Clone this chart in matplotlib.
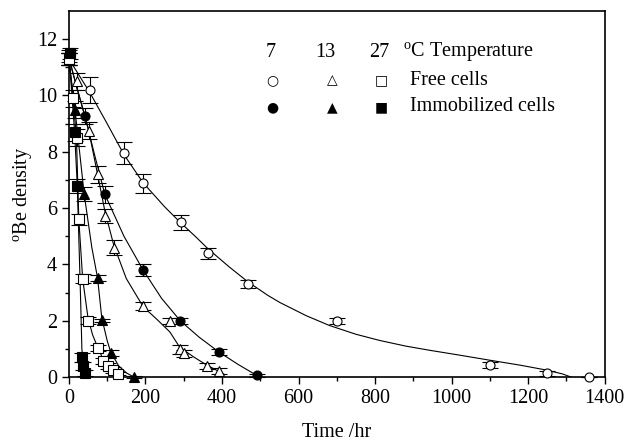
"""Be density decline for free and immobilized cells at three temperatures."""

import matplotlib
matplotlib.use("Agg")
import matplotlib.pyplot as plt

plt.rcParams["font.family"] = ["Liberation Serif", "DejaVu Serif"]
plt.rcParams["mathtext.fontset"] = "custom"
plt.rcParams["mathtext.rm"] = "Liberation Serif"

# measured points (time in hr, density in oBe)
t_free7 = [0, 55, 144, 194, 292, 364, 468, 700, 1100, 1250, 1360]
y_free7 = [11.3, 10.2, 7.96, 6.88, 5.5, 4.4, 3.29, 1.99, 0.43, 0.13, 0.0]
e_free7 = [0.2, 0.45, 0.4, 0.33, 0.27, 0.2, 0.14, 0.12, 0.1, 0.1, 0.0]

t_imm7 = [0, 42, 94, 194, 291, 392, 492]
y_imm7 = [11.4, 9.27, 6.49, 3.8, 1.99, 0.89, 0.06]
e_imm7 = [0.2, 0.3, 0.3, 0.2, 0.12, 0.1, 0.06]

t_free13 = [0, 20, 52, 75, 94, 117, 194, 264, 290, 301, 361, 392]
y_free13 = [11.3, 10.5, 8.75, 7.2, 5.72, 4.6, 2.52, 1.99, 0.98, 0.84, 0.39, 0.21]
e_free13 = [0.2, 0.3, 0.3, 0.3, 0.25, 0.25, 0.15, 0.1, 0.15, 0.12, 0.1, 0.1]

t_imm13 = [0, 16, 40, 75, 86, 109, 170]
y_imm13 = [11.3, 9.5, 6.5, 3.52, 2.01, 0.86, 0.0]
e_imm13 = [0.2, 0.3, 0.25, 0.1, 0.06, 0.1, 0.05]

t_free27 = [0, 12, 20, 26, 36, 50, 75, 90, 103, 116, 129]
y_free27 = [11.3, 9.9, 8.5, 5.6, 3.5, 2.0, 1.03, 0.57, 0.39, 0.24, 0.12]
e_free27 = [0.2, 0.3, 0.3, 0.2, 0.15, 0.12, 0.1, 0.1, 0.1, 0.1, 0.05]

t_imm27 = [3, 15, 22, 34, 37, 41]
y_imm27 = [11.5, 8.7, 6.8, 0.7, 0.4, 0.15]
e_imm27 = [0.2, 0.3, 0.25, 0.15, 0.15, 0.1]

# fitted curves
ft_free7 = [0, 55, 100, 144, 194, 250, 292, 330, 364, 420, 468, 520, 551, 620,
            681, 750, 812, 880, 943, 1020, 1099, 1180, 1247, 1290, 1312]
fy_free7 = [11.3, 10.1, 9.0, 7.9, 6.9, 6.05, 5.48, 5.0, 4.55, 3.9, 3.38, 2.9,
            2.65, 2.18, 1.83, 1.52, 1.3, 1.1, 0.95, 0.78, 0.6, 0.42, 0.25,
            0.11, 0.0]
ft_imm7 = [0, 20, 42, 68, 94, 144, 194, 242, 291, 340, 392, 442, 492]
fy_imm7 = [11.4, 10.3, 9.27, 7.85, 6.49, 5.0, 3.8, 2.8, 2.0, 1.42, 0.89, 0.45, 0.05]
ft_free13 = [0, 25, 52, 75, 94, 117, 150, 194, 230, 264, 290, 330, 361, 392, 405]
fy_free13 = [11.3, 10.1, 8.75, 7.2, 5.9, 4.7, 3.5, 2.5, 2.05, 1.6, 1.05, 0.68,
             0.42, 0.2, 0.1]
ft_imm13 = [0, 16, 40, 60, 75, 86, 100, 109, 130, 150, 170]
fy_imm13 = [11.3, 9.5, 6.5, 4.6, 3.52, 2.1, 1.3, 0.9, 0.4, 0.15, 0.0]
ft_free27 = [0, 12, 20, 26, 36, 50, 62, 77, 90, 103, 116, 129, 138]
fy_free27 = [11.3, 9.8, 8.4, 5.6, 3.5, 2.1, 1.5, 1.0, 0.62, 0.4, 0.25, 0.12, 0.0]
ft_imm27 = [0, 15, 22, 27, 31, 34, 38, 42, 44]
fy_imm27 = [11.5, 8.7, 6.8, 4.5, 2.6, 1.0, 0.4, 0.1, 0.0]

series = [
    (t_free7, y_free7, e_free7, ft_free7, fy_free7, "o", "white"),
    (t_imm7, y_imm7, e_imm7, ft_imm7, fy_imm7, "o", "black"),
    (t_free13, y_free13, e_free13, ft_free13, fy_free13, "^", "white"),
    (t_imm13, y_imm13, e_imm13, ft_imm13, fy_imm13, "^", "black"),
    (t_free27, y_free27, e_free27, ft_free27, fy_free27, "s", "white"),
    (t_imm27, y_imm27, e_imm27, ft_imm27, fy_imm27, "s", "black"),
]

FS = 14.5

fig = plt.figure(figsize=(6.26, 4.41), dpi=100)
ax = fig.add_axes([0.110, 0.145, 0.856, 0.830])

for t, y, e, ft, fy, mk, fc in series:
    ax.plot(ft, fy, color="black", lw=0.8, zorder=2)
    ax.errorbar(t, y, yerr=e, fmt=mk, mfc=fc, mec="black", mew=0.8, ms=6.5,
                ecolor="black", elinewidth=0.8, capsize=5.5, capthick=0.8,
                clip_on=False, zorder=3)

ax.set_xlim(0, 1400)
ax.set_ylim(0, 13)
ax.set_xticks(range(0, 1401, 200))
ax.set_xticks(range(0, 1401, 100), minor=True)
ax.set_yticks(range(0, 13, 2))
ax.set_yticks(range(0, 13, 1), minor=True)
ax.tick_params(direction="out", labelsize=FS, width=1, length=5)
ax.tick_params(which="minor", direction="out", width=1, length=3)
for sp in ax.spines.values():
    sp.set_linewidth(1.2)

ax.set_xlabel("Time /hr", fontsize=FS, labelpad=11)
ax.set_ylabel(r"$^{\mathrm{o}}$Be density", fontsize=FS, labelpad=1)

# header-style legend laid out as a small table
rows_y = [0.888, 0.811, 0.738]
cols_x = [0.377, 0.478, 0.580]
sym_x = [0.379, 0.491, 0.583]
temps = ["7", "13", "27"]
free_sym = ["\u25cb", "\u25b3", "\u25a1"]
imm_sym = ["\u25cf", "\u25b2", "\u25a0"]
for cx, sx, tl, fs, im in zip(cols_x, sym_x, temps, free_sym, imm_sym):
    ax.text(cx, rows_y[0], tl, transform=ax.transAxes, ha="center",
            va="center", fontsize=FS)
    ax.text(sx, rows_y[1], fs, transform=ax.transAxes, ha="center",
            va="center", fontsize=10, family="DejaVu Sans")
    ax.text(sx, rows_y[2], im, transform=ax.transAxes, ha="center",
            va="center", fontsize=10, family="DejaVu Sans")
ax.text(0.623, rows_y[0], r"$^{\mathrm{o}}$C Temperature",
        transform=ax.transAxes, va="center", fontsize=FS)
ax.text(0.636, rows_y[1], "Free cells", transform=ax.transAxes,
        va="center", fontsize=FS)
ax.text(0.636, rows_y[2], "Immobilized cells", transform=ax.transAxes,
        va="center", fontsize=FS)

fig.savefig("out.png", dpi=100)
plt.close(fig)
